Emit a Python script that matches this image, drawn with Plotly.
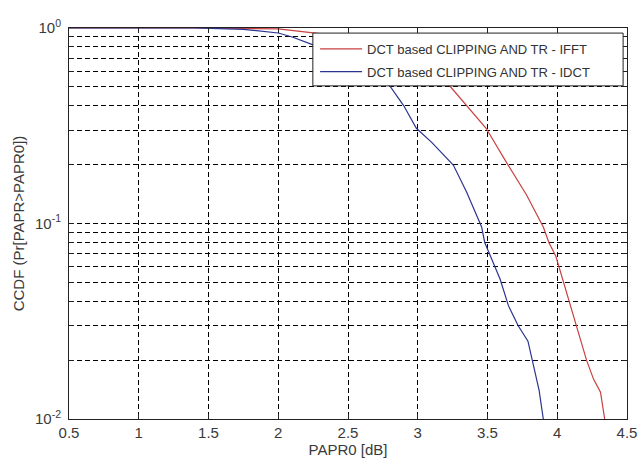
import plotly.graph_objects as go

# Data
papr_ifft = [0.5, 1.4, 2.0, 2.25, 2.5, 2.75, 3.0, 3.23, 3.35, 3.49, 3.64, 3.78, 3.90, 3.92,
             3.94, 3.99, 4.08, 4.14, 4.21, 4.26, 4.31, 4.34]
ccdf_ifft = [1.0, 1.0, 0.99, 0.94, 0.90, 0.82, 0.68, 0.505, 0.40, 0.307, 0.203, 0.14, 0.096, 0.088,
             0.080, 0.068, 0.041, 0.030, 0.020, 0.016, 0.0137, 0.010]

papr_idct = [0.5, 1.4, 1.75, 2.0, 2.1, 2.25, 2.4, 2.55, 2.7, 2.8, 2.9, 2.99, 3.1, 3.2, 3.255,
             3.35, 3.458, 3.48, 3.53, 3.59, 3.65, 3.72, 3.79, 3.83, 3.87, 3.90]
ccdf_idct = [1.0, 1.0, 0.985, 0.943, 0.90, 0.82, 0.74, 0.65, 0.56, 0.505, 0.40, 0.307, 0.26, 0.22, 0.199,
             0.145, 0.096, 0.080, 0.066, 0.052, 0.038, 0.030, 0.025, 0.0187, 0.014, 0.010]

series_names = ["DCT based CLIPPING AND TR - IFFT", "DCT based CLIPPING AND TR - IDCT"]

x_ticks = [0.5, 1, 1.5, 2, 2.5, 3, 3.5, 4, 4.5]
x_ticklabels = ["0.5", "1", "1.5", "2", "2.5", "3", "3.5", "4", "4.5"]

y_ticks = [m * 10 ** e for e in (-2, -1) for m in range(1, 10)] + [1.0]
y_ticklabels = ["10<sup>-2</sup>"] + [""] * 8 + ["10<sup>-1</sup>"] + [""] * 8 + ["10<sup>0</sup>"]

fig = go.Figure()
fig.add_trace(go.Scatter(x=papr_ifft, y=ccdf_ifft, mode="lines", name=series_names[0],
                         legendgroup="a", line=dict(color="#c94040", width=1.2)))
fig.add_trace(go.Scatter(x=papr_idct, y=ccdf_idct, mode="lines", name=series_names[1],
                         legendgroup="b", line=dict(color="#2b3590", width=1.2)))

font_family = "Liberation Sans, Arial, sans-serif"
grid_dash = "5px,3px"

# legend frame (MATLAB-style box, wider than the text)
fig.add_shape(type="rect", xref="paper", yref="paper",
              x0=0.437, x1=0.993, y0=0.852, y1=0.987,
              fillcolor="white", line=dict(color="#222", width=1), layer="above")

fig.update_layout(
    width=638, height=459,
    margin=dict(l=69, r=11, t=28, b=40, autoexpand=False),
    paper_bgcolor="white", plot_bgcolor="white",
    font=dict(family=font_family, size=15, color="#3a3a3a"),
    showlegend=True,
    legend=dict(x=0.441, y=0.985, xanchor="left", yanchor="top",
                bgcolor="rgba(0,0,0,0)", borderwidth=0,
                font=dict(size=13, color="#333", family=font_family),
                tracegroupgap=3, traceorder="grouped", itemwidth=42),
)
fig.update_xaxes(
    range=[0.5, 4.5], tickvals=x_ticks, ticktext=x_ticklabels,
    showline=True, linecolor="#222", linewidth=1, mirror="allticks",
    ticks="inside", ticklen=5, tickcolor="#222", ticklabeloverflow="allow",
    showgrid=True, gridcolor="#000", griddash=grid_dash, gridwidth=1,
    zeroline=False, automargin=False,
    title=dict(text="PAPR0 [dB]", standoff=4, font=dict(size=15)),
)
fig.update_yaxes(
    type="log", range=[-2, 0], tickvals=y_ticks, ticktext=y_ticklabels,
    showline=True, linecolor="#222", linewidth=1, mirror="allticks",
    ticks="inside", ticklen=5, tickcolor="#222", ticklabelstandoff=4,
    ticklabeloverflow="allow",
    showgrid=True, gridcolor="#000", griddash=grid_dash, gridwidth=1,
    zeroline=False, automargin=False,
    title=dict(text="CCDF (Pr[PAPR>PAPR0])", standoff=6, font=dict(size=15)),
)

fig.write_html("out.html",
               config={"displayModeBar": False},
               post_script="document.body.style.margin='0';document.body.style.overflow='hidden';")
